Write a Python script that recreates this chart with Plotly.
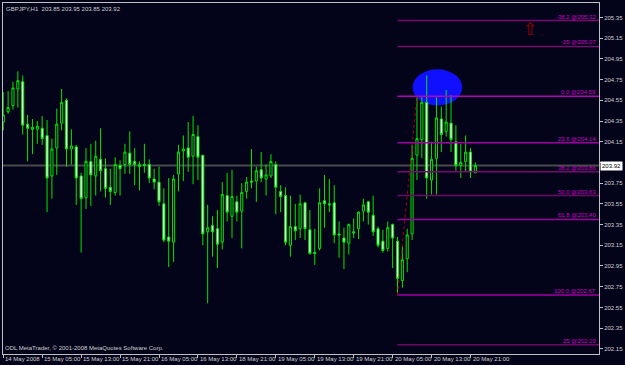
import plotly.graph_objects as go

# ---- data -------------------------------------------------------------
opens = [204.34, 204.44, 204.50, 204.66, 204.73, 204.32, 204.27, 204.27, 204.28, 204.21,
         203.82, 204.09, 204.33, 204.55, 204.08, 204.10, 203.82, 203.61, 203.96, 203.82,
         203.98, 203.89, 203.71, 203.66, 203.92, 203.93, 204.04, 203.96, 203.91, 203.93,
         203.93, 203.79, 203.76, 203.55, 203.23, 203.18, 203.84, 204.06, 204.09, 204.01,
         204.20, 204.02, 203.28, 203.34, 203.31, 203.18, 203.63, 203.43, 203.57, 203.48,
         203.67, 203.77, 203.77, 203.88, 203.79, 203.82, 203.93, 203.67, 203.63, 203.15,
         203.33, 203.31, 203.56, 203.30, 203.08, 203.12, 203.58, 203.55, 203.56, 203.26,
         203.22, 203.17, 203.28, 203.31, 203.48, 203.57, 203.44, 203.31, 203.19, 203.12,
         203.35, 203.19, 202.81, 203.02, 203.26, 204.02, 204.17, 204.53, 203.78, 203.99,
         204.37, 204.25, 204.33, 204.15, 203.92, 203.96, 204.05, 203.85]
highs = [204.63, 204.64, 204.73, 204.83, 204.79, 204.41, 204.37, 204.35, 204.40, 204.36,
         204.18, 204.47, 204.66, 204.57, 204.27, 204.12, 203.85, 204.09, 204.13, 204.16,
         204.28, 203.99, 203.89, 204.00, 203.97, 204.13, 204.25, 204.09, 203.96, 204.13,
         203.98, 203.89, 203.91, 203.70, 203.80, 203.83, 204.12, 204.21, 204.34, 204.40,
         204.31, 204.02, 203.54, 203.43, 203.49, 203.76, 203.85, 203.88, 203.63, 203.75,
         203.81, 204.08, 203.91, 204.05, 203.93, 204.03, 203.96, 203.73, 203.71, 203.63,
         203.55, 203.64, 203.57, 203.49, 203.31, 203.70, 203.83, 203.79, 203.73, 203.38,
         203.32, 203.36, 203.41, 203.48, 203.60, 203.58, 203.63, 203.33, 203.30, 203.38,
         203.36, 203.23, 203.14, 203.31, 204.12, 204.58, 204.58, 204.79, 204.15, 204.58,
         204.49, 204.65, 204.60, 204.31, 204.13, 204.21, 204.09, 203.95]
lows = [204.26, 204.42, 204.46, 204.48, 204.22, 203.96, 204.03, 204.13, 204.12, 203.47,
        203.60, 203.83, 204.26, 203.91, 203.93, 203.54, 203.08, 203.50, 203.53, 203.63,
        203.67, 203.61, 203.54, 203.63, 203.63, 203.84, 203.84, 203.73, 203.68, 203.85,
        203.75, 203.69, 203.53, 203.18, 202.94, 202.99, 203.67, 203.77, 203.86, 203.74,
        203.78, 203.15, 202.59, 203.04, 202.93, 203.11, 203.38, 203.22, 203.38, 203.12,
        203.60, 203.70, 203.57, 203.76, 203.63, 203.80, 203.45, 203.47, 203.15, 203.04,
        203.20, 203.22, 203.20, 203.06, 202.96, 203.10, 203.32, 203.47, 203.17, 203.03,
        202.92, 203.06, 203.22, 203.21, 203.38, 203.35, 203.24, 203.13, 203.08, 203.09,
        202.93, 202.67, 202.74, 202.89, 203.20, 203.78, 203.99, 203.60, 203.64, 203.64,
        204.05, 204.20, 204.05, 203.87, 203.80, 203.86, 203.80, 203.85]
closes = [204.41, 204.48, 204.67, 204.74, 204.31, 204.28, 204.29, 204.30, 204.18, 203.80,
          204.08, 204.32, 204.53, 204.08, 204.11, 203.80, 203.60, 203.96, 203.83, 204.01,
          203.87, 203.70, 203.67, 203.93, 203.89, 204.05, 203.93, 203.93, 203.93, 203.92,
          203.80, 203.76, 203.57, 203.20, 203.19, 203.79, 204.05, 204.08, 204.00, 204.22,
          204.00, 203.26, 203.32, 203.28, 203.16, 203.64, 203.47, 203.62, 203.47, 203.66,
          203.76, 203.76, 203.87, 203.80, 203.83, 203.96, 203.71, 203.62, 203.18, 203.33,
          203.29, 203.55, 203.31, 203.07, 203.07, 203.56, 203.55, 203.54, 203.25, 203.25,
          203.18, 203.35, 203.27, 203.47, 203.54, 203.47, 203.28, 203.15, 203.10, 203.32,
          203.22, 202.83, 203.01, 203.25, 203.99, 204.18, 204.53, 203.80, 203.98, 204.38,
          204.22, 204.34, 204.17, 203.92, 203.95, 204.05, 203.86, 203.92]
bars = list(range(len(opens)))

time_tick_bars = [0, 8, 16, 24, 32, 40, 48, 56, 64, 72, 80, 88, 96]
time_tick_labels = ["14 May 2008", "15 May 05:00", "15 May 13:00", "15 May 21:00",
                    "16 May 05:00", "16 May 13:00", "18 May 21:00", "19 May 05:00",
                    "19 May 13:00", "19 May 21:00", "20 May 05:00", "20 May 13:00",
                    "20 May 21:00"]
price_ticks = [202.15, 202.35, 202.55, 202.75, 202.95, 203.15, 203.35, 203.55,
               203.75, 203.95, 204.15, 204.35, 204.55, 204.75, 204.95, 205.15, 205.35]

fib_labels = ["-38.2 @205.32", "-25 @205.07", "0.0 @204.59", "23.6 @204.14",
              "38.2 @203.86", "50.0 @203.63", "61.8 @203.40", "100.0 @202.67", "25 @202.19"]
fib_prices = [205.32, 205.07, 204.59, 204.14, 203.86, 203.63, 203.40, 202.67, 202.19]
fib_colors = ["#7a0a70", "#7a0a70", "#b400b4", "#a000a0", "#7a0a70", "#6e0a66",
              "#a000a0", "#a000a0", "#6e0a66"]
fib_start_bar = 81
fib_end_bar = 85
fib_low = 202.67
fib_high = 204.59

bid_price = 203.92
symbol_text = "GBPJPY,H1  203.85 203.95 203.85 203.92"
copyright_text = "ODL MetaTrader, © 2001-2008 MetaQuotes Software Corp."

# ---- styling ----------------------------------------------------------
BG = "#03031a"
FONT = "Liberation Sans, Arial"
FS = 6
X_RANGE = [-0.05, 122.4]
Y_RANGE = [202.10, 205.49]

fig = go.Figure()
fig.add_trace(go.Candlestick(
    x=bars, open=opens, high=highs, low=lows, close=closes,
    increasing=dict(line=dict(color="#00e600", width=1), fillcolor=BG),
    decreasing=dict(line=dict(color="#00e600", width=1), fillcolor="#ffffff"),
    whiskerwidth=0, hoverinfo="skip", showlegend=False,
))

shapes = []
# bid line
shapes.append(dict(type="line", xref="paper", x0=0, x1=1, yref="y", y0=bid_price, y1=bid_price,
                   line=dict(color="#4a4a4a", width=2), layer="below"))
# ellipse
shapes.append(dict(type="circle", xref="x", yref="y", x0=84.1, x1=94.3, y0=204.50, y1=204.85,
                   fillcolor="#1010ff", line=dict(width=0), layer="below"))
# fibonacci levels
for p, c in zip(fib_prices, fib_colors):
    shapes.append(dict(type="line", xref="x", yref="y", x0=fib_start_bar, x1=X_RANGE[1],
                       y0=p, y1=p, line=dict(color=c, width=1.5)))
# fib trend line
shapes.append(dict(type="line", xref="x", yref="y", x0=fib_start_bar, x1=fib_end_bar,
                   y0=fib_low, y1=fib_high, line=dict(color="#b00000", width=1, dash="dot")))

annotations = []
for p, t in zip(fib_prices, fib_labels):
    annotations.append(dict(x=1, xref="paper", y=p, yref="y", text=t, showarrow=False,
                            xanchor="right", yanchor="bottom", xshift=-1, yshift=-1,
                            font=dict(family=FONT, size=FS, color="#d000d0")))
for b, t in zip(time_tick_bars, time_tick_labels):
    annotations.append(dict(x=b, xref="x", y=0, yref="paper", text=t, showarrow=False,
                            xanchor="left", yanchor="top", xshift=0, yshift=0,
                            font=dict(family=FONT, size=FS, color="#d0d0d0")))
annotations.append(dict(x=0, xref="paper", y=1, yref="paper", text=symbol_text, showarrow=False,
                        xanchor="left", yanchor="top", xshift=1, yshift=-1,
                        font=dict(family=FONT, size=FS, color="#d0d0d0")))
annotations.append(dict(x=0, xref="paper", y=0, yref="paper", text=copyright_text, showarrow=False,
                        xanchor="left", yanchor="bottom", xshift=0, yshift=1,
                        font=dict(family=FONT, size=FS, color="#d0d0d0")))
annotations.append(dict(x=1, xref="paper", y=bid_price, yref="y", text="203.92", showarrow=False,
                        xanchor="left", yanchor="middle", xshift=1, bgcolor="#ffffff",
                        borderpad=1, font=dict(family=FONT, size=FS, color="#000000")))
annotations.append(dict(x=108.2, xref="x", y=205.24, yref="y", text="⇧", showarrow=False,
                        font=dict(family="DejaVu Sans", size=17, color="#a00000")))

# the 203.95 price label is hidden behind the bid-price box, as in the reference
price_text = ["" if abs(v - 203.95) < 1e-6 else f"{v:.2f}" for v in price_ticks]

fig.update_layout(
    width=625, height=365,
    margin=dict(l=2, r=23, t=3, b=11),
    paper_bgcolor=BG, plot_bgcolor=BG,
    boxgap=0.38,
    shapes=shapes, annotations=annotations,
    xaxis=dict(range=X_RANGE, rangeslider=dict(visible=False), showgrid=False, zeroline=False,
               tickvals=time_tick_bars, showticklabels=False, ticks="outside", ticklen=3,
               tickcolor="#c0c0c0", showline=True, mirror=True, linecolor="#c0c0c0", linewidth=1),
    yaxis=dict(range=Y_RANGE, side="right", showgrid=False, zeroline=False,
               tickvals=price_ticks, ticktext=price_text,
               ticks="outside", ticklen=3, tickcolor="#c0c0c0",
               tickfont=dict(family=FONT, size=FS, color="#d0d0d0"),
               showline=True, mirror=True, linecolor="#c0c0c0", linewidth=1),
)

fig.write_html("out.html")
